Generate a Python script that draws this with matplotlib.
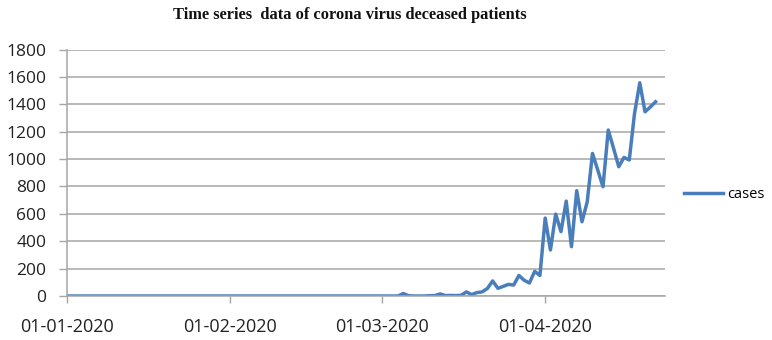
import matplotlib
matplotlib.use('Agg')
import matplotlib.pyplot as plt
import pandas as pd

# === DATOS ===
fechas = pd.date_range("2020-01-01", "2020-04-22", freq="D")

casos_ene = [0, 0, 0, 0, 0, 0, 0, 0, 0, 0, 0, 0, 0, 0, 0, 0,
             0, 0, 0, 0, 0, 0, 0, 0, 0, 0, 0, 0, 0, 0, 0]
casos_feb = [0, 0, 0, 0, 0, 0, 0, 0, 0, 0, 0, 0, 0, 0, 0,
             0, 0, 0, 0, 0, 0, 0, 0, 0, 0, 0, 0, 0, 0]
casos_mar = [0, 0, 0, 0, 18, 2, 0, 0, 0, 2, 3, 15, 3, 4, 3, 5,
             30, 10, 25, 30, 55, 110, 56, 70, 85, 80, 150, 115, 95, 180, 150]
casos_abr = [569, 336, 598, 470, 693, 360, 769, 542, 688, 1041, 920,
             798, 1212, 1080, 944, 1012, 993, 1333, 1557, 1345, 1380, 1418]
casos = casos_ene + casos_feb + casos_mar + casos_abr

ticks_x = ["2020-01-01", "2020-02-01", "2020-03-01", "2020-04-01"]
etiquetas_x = ["01-01-2020", "01-02-2020", "01-03-2020", "01-04-2020"]
ticks_y = [0, 200, 400, 600, 800, 1000, 1200, 1400, 1600, 1800]

AZUL = '#4A7EBB'
GRIS = '#A6A6A6'
FUENTE = 'Open Sans'

fig = plt.figure(figsize=(7.72, 3.40), dpi=100)
ax = fig.add_axes([67/772, 1 - 296/340, (665 - 67)/772, (296 - 49.5)/340])

ax.plot(fechas, casos, color=AZUL, linewidth=2.5, label="cases", solid_joinstyle='round')

# ejes
inicio = pd.Timestamp("2020-01-01")
ax.set_xlim(inicio, inicio + pd.Timedelta(days=113.8))
ax.set_ylim(0, 1800)
ax.set_yticks(ticks_y)
ax.set_yticklabels([str(v) for v in ticks_y], fontfamily=FUENTE, fontsize=12.5, color='#222222')
ax.set_xticks([pd.Timestamp(t) for t in ticks_x])
ax.set_xticklabels(etiquetas_x, fontfamily=FUENTE, fontsize=13, color='#222222')

ax.grid(axis='y', color=GRIS, linewidth=1.1)
ax.set_axisbelow(True)
for lado in ['top', 'right']:
    ax.spines[lado].set_visible(False)
for lado in ['left', 'bottom']:
    ax.spines[lado].set_color(GRIS)
    ax.spines[lado].set_linewidth(1.1)
ax.tick_params(axis='y', length=6, width=1, color=GRIS, pad=9)
ax.tick_params(axis='x', length=5, width=1, color=GRIS, pad=11)

# titulo
fig.text(350/772, 1 - 15/340, "Time series  data of corona virus deceased patients",
         ha='center', va='center', fontfamily='Liberation Serif', fontweight='bold',
         fontsize=11.8, color='#111111')

# leyenda
ax.legend(loc='center left', bbox_to_anchor=(684/772, 1 - 195/340), bbox_transform=fig.transFigure,
          frameon=False, handlelength=2.7, handletextpad=0.25, borderpad=0, borderaxespad=0,
          prop={'family': FUENTE, 'size': 10.5})

fig.savefig("out.png", dpi=100)
